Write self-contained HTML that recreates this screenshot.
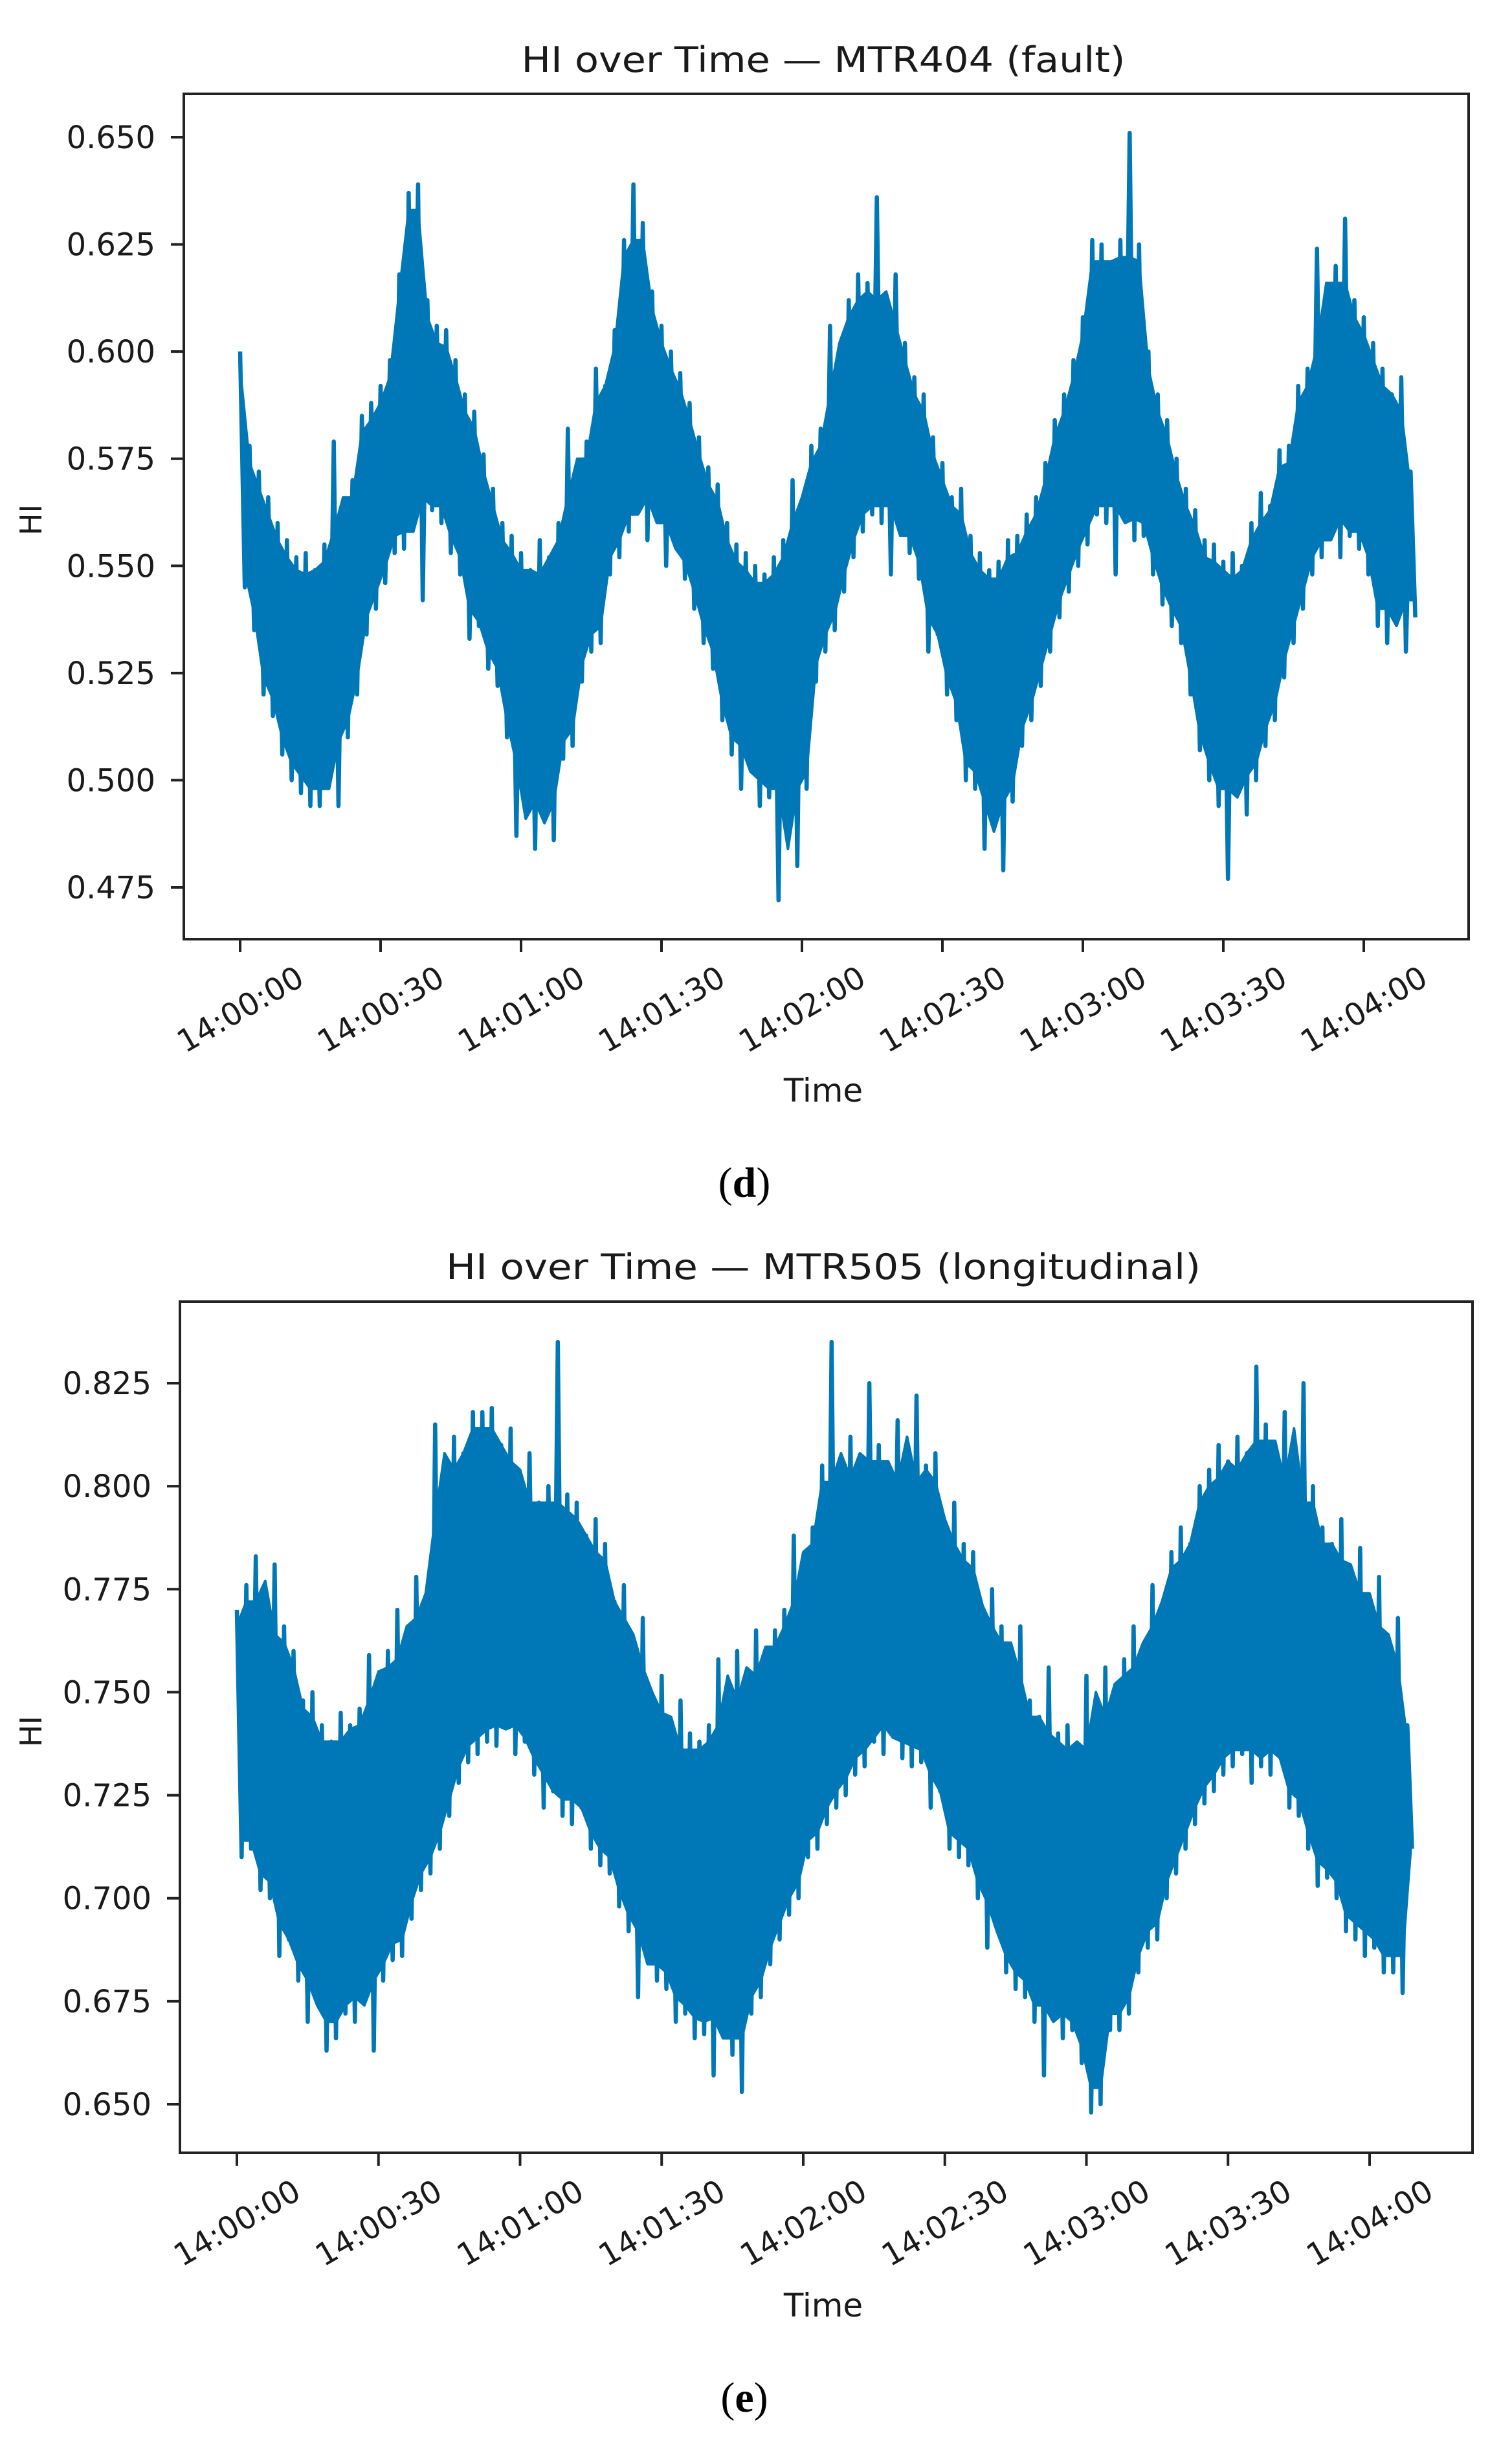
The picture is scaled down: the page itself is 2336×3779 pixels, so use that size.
<!DOCTYPE html>
<html><head><meta charset="utf-8"><style>
html,body{margin:0;padding:0;background:#fff;}
svg{display:block;}
</style></head><body>
<svg id="fig" xmlns="http://www.w3.org/2000/svg" width="2336" height="3779" viewBox="0 0 2336 3779" font-family="'DejaVu Sans','Liberation Sans',sans-serif">
<rect width="2336" height="3779" fill="#fff"/>
</svg>
<script>
// ---- data: chart (d) MTR404 ----
const sampleStep = 2; // seconds between samples
const hiD = [.600,.578,.572,.566,.560,.556,.552,.553,.549,.555,.579,.562,.570,.585,.588,.592,.598,.618,.637,.639,.612,.606,.605,.598,.590,.586,.576,.568,.560,.557,.553,.549,.556,.552,.560,.582,.570,.579,.596,.592,.605,.626,.639,.630,.614,.606,.600,.595,.588,.580,.573,.569,.560,.555,.553,.550,.548,.552,.556,.570,.564,.578,.582,.606,.594,.612,.618,.616,.636,.610,.618,.602,.594,.590,.580,.574,.566,.568,.557,.553,.549,.551,.556,.557,.562,.566,.574,.584,.590,.598,.608,.626,.625,.616,.626,.651,.625,.600,.590,.584,.575,.568,.563,.556,.555,.551,.553,.550,.560,.567,.564,.577,.578,.592,.596,.624,.605,.620,.631,.612,.608,.602,.596,.590,.594,.572];
const loD = [.545,.535,.520,.515,.506,.500,.497,.494,.494,.505,.494,.510,.520,.534,.540,.546,.553,.554,.562,.542,.563,.560,.553,.548,.533,.536,.526,.522,.510,.487,.500,.484,.491,.486,.505,.508,.523,.530,.532,.548,.552,.558,.563,.556,.562,.550,.556,.547,.540,.532,.526,.514,.506,.498,.504,.494,.496,.472,.494,.480,.498,.523,.530,.535,.544,.552,.558,.562,.560,.548,.560,.553,.547,.530,.534,.520,.514,.500,.498,.484,.491,.479,.495,.508,.514,.522,.530,.538,.544,.550,.555,.562,.560,.548,.565,.556,.557,.548,.541,.536,.532,.520,.507,.500,.494,.477,.497,.492,.500,.508,.514,.524,.532,.540,.548,.552,.558,.552,.557,.554,.548,.536,.532,.540,.530,.538];
const yTicksD = [0.475,0.500,0.525,0.550,0.575,0.600,0.625,0.650];
// ---- data: chart (e) MTR505 ----
const hiE = [.770,.776,.783,.768,.781,.766,.760,.748,.750,.742,.738,.745,.742,.746,.759,.752,.760,.770,.762,.778,.772,.815,.796,.812,.808,.818,.818,.819,.810,.814,.800,.808,.796,.800,.835,.798,.796,.788,.792,.786,.772,.776,.760,.768,.749,.754,.740,.748,.740,.738,.742,.758,.746,.760,.752,.765,.758,.765,.770,.788,.776,.790,.805,.835,.800,.812,.806,.825,.810,.805,.816,.800,.822,.805,.808,.790,.796,.786,.784,.770,.775,.766,.758,.766,.748,.744,.756,.740,.742,.735,.754,.740,.756,.748,.758,.766,.760,.776,.770,.784,.790,.786,.800,.804,.810,.806,.812,.808,.829,.815,.805,.818,.800,.825,.800,.790,.786,.792,.778,.785,.770,.778,.760,.768,.742];
const loE = [.710,.712,.702,.700,.686,.690,.680,.670,.676,.663,.666,.672,.670,.676,.663,.680,.685,.686,.695,.702,.706,.712,.720,.728,.733,.735,.738,.737,.742,.735,.738,.730,.722,.726,.720,.718,.722,.712,.708,.706,.698,.692,.676,.688,.680,.678,.670,.672,.666,.667,.657,.672,.662,.653,.672,.676,.684,.690,.696,.700,.710,.712,.718,.722,.725,.730,.732,.738,.735,.740,.734,.732,.733,.722,.726,.712,.710,.708,.700,.688,.695,.682,.678,.676,.670,.657,.672,.666,.668,.660,.648,.650,.668,.668,.672,.682,.688,.690,.700,.706,.712,.718,.723,.726,.730,.732,.735,.728,.732,.730,.735,.722,.720,.712,.703,.705,.700,.692,.690,.686,.688,.682,.682,.677,.712];
const yTicksE = [0.650,0.675,0.700,0.725,0.750,0.775,0.800,0.825];
const xTickSeconds = [0,30,60,90,120,150,180,210,240];
const xTickLabels = ["14:00:00","14:00:30","14:01:00","14:01:30","14:02:00","14:02:30","14:03:00","14:03:30","14:04:00"];

const NS = "http://www.w3.org/2000/svg";
const svg = document.getElementById('fig');
function mk(tag, attrs, parent){
  const e = document.createElementNS(NS, tag);
  for (const k in attrs) e.setAttribute(k, attrs[k]);
  (parent||svg).appendChild(e);
  return e;
}
function med3(a,i){
  const v=[a[Math.max(0,i-1)],a[i],a[Math.min(a.length-1,i+1)]].sort((p,q)=>p-q);
  return v[1];
}

function drawChart(cfg){
  const g = mk('g', {});
  
  
  const xs = s => cfg.x0 + (s/240)*(cfg.x240 - cfg.x0);
  const ys = v => cfg.yA + (v - cfg.vA)/(cfg.vB - cfg.vA)*(cfg.yB - cfg.yA);

  const t = mk('text', {x:1272, y:cfg.titleY, 'text-anchor':'middle', 'font-size':54, fill:'#1a1a1a', textLength:cfg.titleW, lengthAdjust:'spacingAndGlyphs'}, g);
  t.textContent = cfg.title;
  
  

  // dense core band (from hi/lo median envelopes)
  let up = '', dn = '';
  const n = cfg.hi.length;
  for (let i=0;i<n;i++){
    const s = i*sampleStep;
    up += (i===0?'M':'L') + xs(s).toFixed(1) + ' ' + ys(med3(cfg.hi,i)-0.004).toFixed(1);
  }
  for (let i=cfg.lo.length-1;i>=0;i--){
    const s = i*sampleStep + sampleStep/2;
    dn += 'L' + xs(s).toFixed(1) + ' ' + ys(med3(cfg.lo,i)+0.004).toFixed(1);
  }
  const band = mk('path', {d:up+dn+'Z', fill:'#0077b6', stroke:'#0077b6', 'stroke-width':4, 'stroke-linejoin':'round'}, g);
  
  

  // zigzag series
  let d = '';
  for (let i=0;i<n;i++){
    const s = i*sampleStep;
    d += (i===0?'M':'L') + xs(s).toFixed(1) + ' ' + ys(cfg.hi[i]).toFixed(1);
    if (i < cfg.lo.length) d += 'L' + xs(s+sampleStep/2).toFixed(1) + ' ' + ys(cfg.lo[i]).toFixed(1);
  }
  const p = mk('path', {d:d, fill:'none', stroke:'#0077b6', 'stroke-width':6.5, 'stroke-linejoin':'round'}, g);
  
  

  const f = mk('rect', {x:cfg.fx1, y:cfg.fy1, width:cfg.fx2-cfg.fx1, height:cfg.fy2-cfg.fy1, fill:'none', stroke:'#222', 'stroke-width':4}, g);
  
  

  cfg.yTicks.forEach(v=>{
    const y = ys(v);
    const tk = mk('line', {x1:cfg.fx1-20, x2:cfg.fx1, y1:y, y2:y, stroke:'#222', 'stroke-width':4}, g);
    
    
    const lb = mk('text', {x:cfg.fx1-44, y:y+17, 'text-anchor':'end', 'font-size':48, fill:'#1a1a1a'}, g);
    lb.textContent = v.toFixed(3);
    
    
  });
  xTickSeconds.forEach((s,i)=>{
    const x = xs(s);
    const tk = mk('line', {x1:x, x2:x, y1:cfg.fy2, y2:cfg.fy2+20, stroke:'#222', 'stroke-width':4}, g);
    
    
    const cy = cfg.fy2 + 108;
    const lb = mk('text', {x:x, y:cy+17, 'text-anchor':'middle', 'font-size':48, fill:'#1a1a1a', transform:`rotate(-30 ${x} ${cy})`}, g);
    lb.textContent = xTickLabels[i];
    
    
  });
  const xl = mk('text', {x:1272, y:cfg.timeY+17, 'text-anchor':'middle', 'font-size':50, fill:'#1a1a1a'}, g);
  xl.textContent = 'Time';
  
  
  const yl = mk('text', {x:48, y:cfg.hiY, 'text-anchor':'middle', 'font-size':46, fill:'#1a1a1a', transform:`rotate(-90 48 ${cfg.hiY}) translate(0 16)`}, g);
  yl.textContent = 'HI';
  
  
  const pl = mk('text', {x:1150, y:cfg.panelY+22, 'text-anchor':'middle', 'font-size':66, fill:'#000', 'font-family':"'Liberation Serif',serif"}, g);
  
  
  pl.appendChild(document.createTextNode('('));
  const b = mk('tspan', {'font-weight':'bold'}, pl);
  b.textContent = cfg.panel;
  pl.appendChild(document.createTextNode(')'));
}

drawChart({name:'chart-mtr404-fault', title:'HI over Time \u2014 MTR404 (fault)', titleY:111, titleW:933,
  hi:hiD, lo:loD, yTicks:yTicksD,
  fx1:284, fx2:2269, fy1:145, fy2:1451,
  x0:371, x240:2107, vA:0.650, yA:212, vB:0.475, yB:1371,
  timeY:1685, hiY:803, panelY:1827, panel:'d'});

drawChart({name:'chart-mtr505-longitudinal', title:'HI over Time \u2014 MTR505 (longitudinal)', titleY:1976, titleW:1166,
  hi:hiE, lo:loE, yTicks:yTicksE,
  fx1:278, fx2:2275, fy1:2011, fy2:3326,
  x0:366, x240:2116, vA:0.825, yA:2137, vB:0.650, yB:3251,
  timeY:3562, hiY:2675, panelY:3704, panel:'e'});
</script>
</body></html>
